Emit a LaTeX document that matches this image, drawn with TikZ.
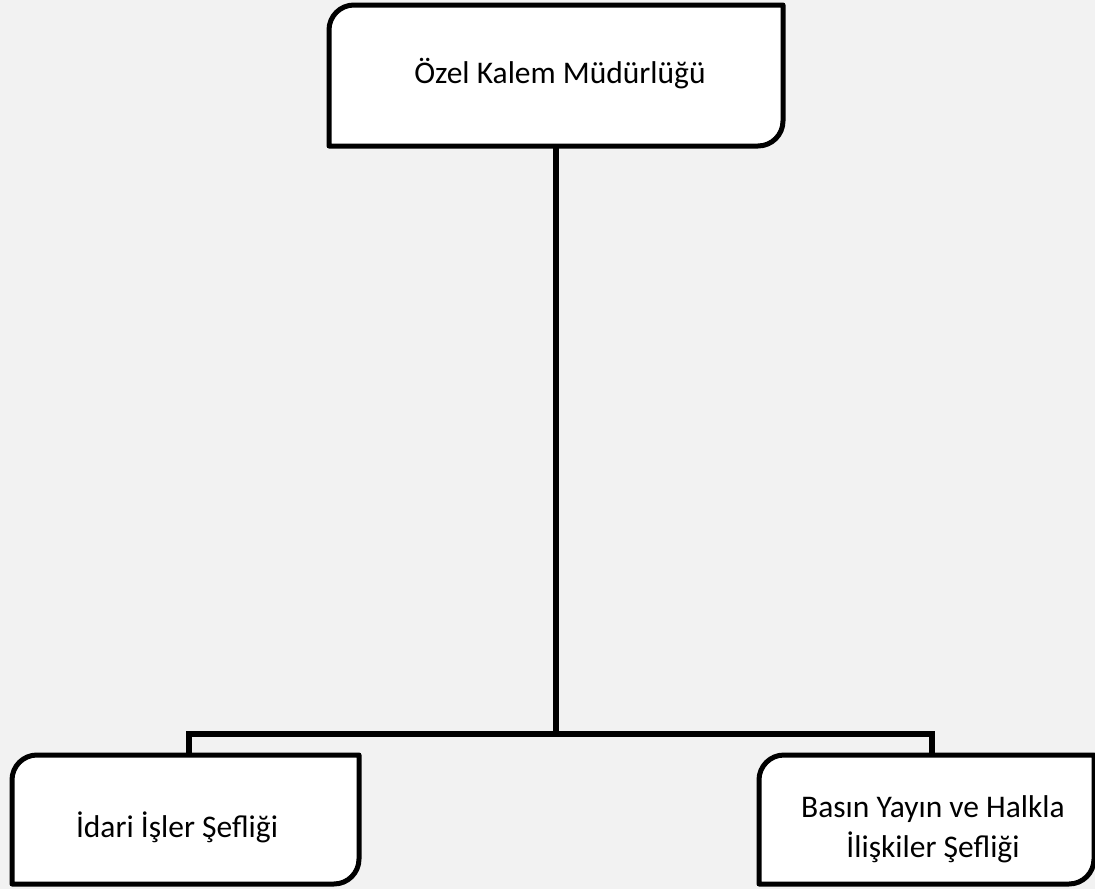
\documentclass[tikz,border=0pt]{standalone}
\usepackage{fontspec}
\setmainfont{Carlito}
\pgfdeclarelayer{bg}
\pgfsetlayers{bg,main}
\definecolor{bgcol}{HTML}{F2F2F2}
\tikzset{
  boxline/.style={draw=black, fill=white, line width=5pt, line join=round},
  conn/.style={draw=black, line width=5.5pt, line join=miter},
  frame/.style={inner sep=0pt, outer sep=0pt},
  lbl/.style={font=\fontsize{31.5}{40}\selectfont, align=center, inner sep=0pt}
}
\newcommand\diagshape[1]{%
  \begin{pgfonlayer}{bg}
  \draw[boxline] ([yshift=-25pt]#1.north west) arc[start angle=180,end angle=90,radius=25pt]
     -- (#1.north east) -- ([yshift=25pt]#1.south east)
     arc[start angle=0,end angle=-90,radius=25pt] -- (#1.south west) -- cycle;
  \end{pgfonlayer}}
\begin{document}
\begin{tikzpicture}[x=1pt,y=1pt]
  \begin{pgfonlayer}{bg}
  \fill[bgcol] (0,0) rectangle (1095,-889);
  \end{pgfonlayer}
  \useasboundingbox (0,0) rectangle (1095,-889);
  % boxes (centers of outlines)
  \node[frame, minimum width=454pt, minimum height=141pt] (top) at (556,-75.5) {};
  \node[frame, minimum width=347pt, minimum height=129pt] (left) at (185.5,-819.5) {};
  \node[frame, minimum width=335pt, minimum height=129pt] (right) at (926.5,-819.5) {};
  \diagshape{top}
  \diagshape{left}
  \diagshape{right}
  % texts
  \node[lbl] (ttop) at (560,-74) {Özel Kalem Müdürlüğü};
  \node[lbl] (tleft) at (177,-827) {İdari İşler Şefliği};
  \node[lbl] (tright) at (933,-829) {Basın Yayın ve Halkla\\İlişkiler Şefliği};
  % connectors
  \coordinate (j) at (556,-734);
  \begin{pgfonlayer}{bg}
  \draw[conn] (top.south) -- (j);
  \draw[conn] ([xshift=3.5pt]left.north) |- (j) -| ([xshift=5.5pt]right.north);
  \end{pgfonlayer}
\end{tikzpicture}
\end{document}
